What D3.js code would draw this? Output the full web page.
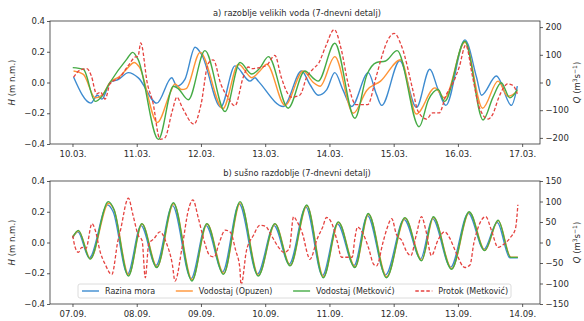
<!DOCTYPE html>
<html>
<head>
<meta charset="utf-8">
<script src="https://cdn.jsdelivr.net/npm/d3@7"></script>
<style>
  body { margin: 0; background: #fff; }
  svg { font-family: "DejaVu Sans", sans-serif; }
</style>
</head>
<body>
<div id="container"></div>
<script>

//---------------------
// DATA (hours from start of window, value)
//---------------------

const floodStart = new Date(2019, 2, 10);
const droughtStart = new Date(2019, 8, 7);

// a) flood period, water level H (m n.m.)
const floodSea = [[0.4,0.036],[6.9,-0.134],[9.3,-0.083],[11,-0.108],[14,0.0],[17.2,0.02],[20.9,0.064],[24.6,0.03],
  [31.5,-0.134],[37.1,0.031],[39,-0.024],[42,0.02],[45.8,0.229],[48.3,0.18],[55.4,-0.16],[60.7,0.108],[66.3,0.009],
  [68.2,0.031],[69.4,0.009],[78.8,-0.156],[85.6,0.075],[88.7,-0.013],[91.8,-0.083],[95,-0.046],[98,0.064],[101,-0.046],
  [104.3,-0.156],[110.5,0.064],[113.6,-0.079],[115.5,-0.149],[122.3,0.141],[128.5,-0.162],[133.5,0.086],[136.6,-0.046],
  [139.5,-0.149],[146.6,0.277],[151,0.031],[152.8,-0.083],[158.4,0.042],[164,-0.149],[166.2,-0.024]];

const floodOpuzen = [[0.4,0.075],[4.1,0.053],[8.5,-0.10],[11,-0.083],[14,0.0],[17.8,0.042],[20.9,0.10],[23,0.13],[25,0.1],
  [31.7,-0.26],[36.5,-0.068],[38.3,-0.01],[40.8,-0.046],[42.5,-0.04],[47.7,0.196],[56.2,-0.17],[62,0.119],[67,0.031],
  [70,0.075],[72.6,0.119],[79.4,-0.149],[86.2,0.075],[90,0.0],[92.5,-0.024],[98,0.168],[104.9,-0.2],[110,-0.05],
  [115.1,0.009],[122.6,0.148],[128.5,-0.205],[135.4,-0.035],[139,-0.1],[146.6,0.262],[153.2,-0.167],[159,0.009],
  [162.7,-0.09],[166.2,-0.057]];

const floodMetkovic = [[0.1,0.097],[4.1,0.086],[8.5,-0.123],[11,-0.09],[14,0.0],[20.3,0.152],[22.5,0.196],[24.5,0.15],
  [32.1,-0.37],[37.7,-0.024],[39.5,-0.04],[43.3,-0.112],[49.5,0.207],[57,-0.189],[62.6,0.13],[67,0.055],[70,0.094],
  [73.2,0.168],[80.6,-0.167],[86.8,0.075],[90.5,0.02],[91.8,0.009],[98,0.255],[105.5,-0.233],[110,0.05],[113.6,0.13],
  [117,0.14],[121.3,0.207],[129.5,-0.288],[133,-0.112],[136.6,-0.046],[139,-0.123],[146.6,0.268],[153.4,-0.244],
  [157,-0.1],[160.2,-0.002],[163.4,-0.10],[166.2,-0.046]];

// a) flood period, discharge Q (m3/s)
const floodQ = [[0.4,19],[2.7,44],[5.4,50],[7,25],[9,-41],[10.5,-35],[12.2,-60],[14,-5],[17.8,20],[20.9,62],[23.4,92],
  [24.5,95],[25.5,143],[28,-5],[30,-70],[32.7,-205],[34.5,-200],[37.3,-102],[39,-53],[41,-90],[45.4,-150],[48,-80],
  [50.7,68],[52.6,82],[55.4,-5],[58,-53],[60.7,-84],[63.8,19],[65.7,56],[67,50],[69,52],[72.5,62],[75.6,98],[78,19],
  [80.5,-41],[81.8,-53],[85,-45],[87.5,19],[90,50],[92,70],[94.5,128],[97.8,191],[100.5,116],[103,-5],[105.9,-80],
  [110.3,-80],[113.4,19],[115.9,104],[117.8,153],[120.2,177],[123,130],[127.2,-29],[129,-102],[132.3,-132],[134.5,-110],
  [137,-110],[139.5,-47],[142,-5],[144.5,56],[146.9,135],[149.5,19],[152,-90],[155.3,-132],[157,-115],[159.3,-53],
  [161.2,-17],[162.5,-5],[164.5,-10],[166.2,-41]];

// b) dry period, water level H (m n.m.)
const droughtSea = [[0,0.03],[2,0.07],[6.3,-0.1],[13.1,0.245],[15.2,0.2],[20.6,-0.205],[25.6,0.11],[31.2,-0.15],
  [37.4,0.24],[44.3,-0.235],[49.9,0.11],[56.1,-0.19],[62.3,0.25],[69.1,-0.205],[75.3,0.11],[81,-0.14],[87.2,0.23],
  [93.4,-0.215],[99,0.12],[105.2,-0.15],[110.2,0.175],[117,-0.21],[123.9,0.15],[130.1,-0.105],[134.5,0.155],
  [141.3,-0.16],[147.9,0.19],[153.7,-0.045],[158.7,0.13],[163.4,-0.1],[166.4,-0.1]];

const droughtOpuzen = [[0.1,0.035],[2.3,0.075],[6.7,-0.105],[13.5,0.255],[15.5,0.215],[21,-0.21],[26,0.12],[31.6,-0.158],
  [37.8,0.252],[44.7,-0.242],[50.3,0.12],[56.5,-0.2],[62.7,0.258],[69.5,-0.212],[75.7,0.12],[81.4,-0.148],[87.6,0.238],
  [93.8,-0.222],[99.4,0.13],[105.6,-0.158],[110.6,0.184],[117.4,-0.222],[124.3,0.158],[130.5,-0.115],[134.9,0.163],
  [141.7,-0.17],[148.3,0.196],[154.1,-0.05],[159.1,0.142],[163.8,-0.095],[166.4,-0.095]];

const droughtMetkovic = [[0.1,0.035],[2.2,0.079],[6.6,-0.108],[13.4,0.266],[15.5,0.215],[20.9,-0.218],[25.9,0.123],
  [31.5,-0.163],[37.7,0.259],[44.6,-0.25],[50.2,0.123],[56.4,-0.207],[62.6,0.266],[69.4,-0.218],[75.6,0.123],
  [81.3,-0.152],[87.5,0.244],[93.7,-0.229],[99.3,0.134],[105.5,-0.163],[110.5,0.189],[117.3,-0.229],[124.2,0.162],
  [130.4,-0.119],[134.8,0.167],[141.6,-0.174],[148.2,0.2],[154,-0.053],[159,0.145],[163.7,-0.097],[166.4,-0.097]];

// b) dry period, discharge Q (m3/s)
const droughtQ = [[0.1,17],[1,-12],[2.2,-24],[3.5,-12],[5,-15],[7.3,46],[8.5,30],[10.4,-24],[12.2,-53],[14.7,-78],
  [17,5],[17.8,26],[20.9,108],[22.5,70],[24.6,17],[26,5],[27.2,-86],[28.5,-3],[30.4,9],[32.7,26],[35,0],[37.3,-53],
  [38.3,-94],[41,-10],[43.3,79],[45,104],[47,60],[49.5,-3],[51.3,-32],[53,-35],[54.7,-3],[57.1,30],[59,25],[61,-20],
  [62.5,-61],[63,-104],[65,-20],[67.6,17],[70,42],[72,40],[74.5,15],[77,-12],[79,-24],[81,-15],[82.6,63],[84,50],
  [86,20],[88,-32],[88.7,-41],[91.5,10],[93.5,38],[94.9,61],[97,45],[99,0],[100.5,-36],[103,-36],[104.5,-36],
  [105.5,10],[106.5,38],[109,15],[110.7,-15],[112.5,-53],[113.6,-57],[116,0],[117.3,30],[119.3,58],[121,20],[123,5],
  [125,-24],[126.4,-32],[128.5,20],[130.4,63],[132,30],[134.1,-32],[136.5,5],[139,26],[141,10],[143,-20],[146.6,-61],
  [148.5,-55],[150,0],[154.4,63],[156.5,30],[159,-12],[161,-5],[163.7,13],[165.5,34],[166.4,92]];

const hTicks = [-0.4, -0.2, 0.0, 0.2, 0.4];
const qTicksFlood = [-200, -100, 0, 100, 200];
const qTicksDrought = [-150, -100, -50, 0, 50, 100, 150];

const seriesNames = ['Razina mora', 'Vodostaj (Opuzen)', 'Vodostaj (Metković)', 'Protok (Metković)'];
const seriesColors = ['#3d8bd0', '#ff9436', '#45ab45', '#e5423f'];

//---------------------
// LAYOUT
//---------------------

const W = 584, H = 321;
const plotLeft = 50, plotRight = 540;
const textColor = '#2b2b2b';

const svg = d3.select('#container')
              .append('svg')
              .attr('width', W)
              .attr('height', H);

addPanel({
  top: 21, bottom: 144,
  title: 'a) razoblje velikih voda (7-dnevni detalj)',
  start: floodStart,
  levels: [floodSea, floodOpuzen, floodMetkovic],
  flow: floodQ,
  qDomain: [-222, 222],
  qTicks: qTicksFlood,
  legend: false
});

addPanel({
  top: 181, bottom: 304,
  title: 'b) sušno razdoblje (7-dnevni detalj)',
  start: droughtStart,
  levels: [droughtSea, droughtOpuzen, droughtMetkovic],
  flow: droughtQ,
  qDomain: [-150, 150],
  qTicks: qTicksDrought,
  legend: true
});

//---------------------
// PANEL
//---------------------

function addPanel (p) {
  const x = d3.scaleTime()
              .domain([d3.timeMinute.offset(p.start, -504), d3.timeMinute.offset(p.start, 7 * 1440 + 400)])
              .range([plotLeft, plotRight]);
  const yH = d3.scaleLinear().domain([-0.4, 0.4]).range([p.bottom, p.top]);
  const yQ = d3.scaleLinear().domain(p.qDomain).range([p.bottom, p.top]);

  const toDate = h => d3.timeMinute.offset(p.start, h * 60);

  const g = svg.append('g');

  // lines
  const lineH = d3.line()
                  .x(d => x(toDate(d[0])))
                  .y(d => yH(d[1]))
                  .curve(d3.curveMonotoneX);
  const lineQ = d3.line()
                  .x(d => x(toDate(d[0])))
                  .y(d => yQ(d[1]))
                  .curve(d3.curveMonotoneX);

  p.levels.forEach((s, i) => {
    g.append('path')
     .datum(s)
     .attr('d', lineH)
     .attr('fill', 'none')
     .attr('stroke', seriesColors[i])
     .attr('stroke-width', 1.4)
     .attr('stroke-linejoin', 'round');
  });

  g.append('path')
   .datum(p.flow)
   .attr('d', lineQ)
   .attr('fill', 'none')
   .attr('stroke', seriesColors[3])
   .attr('stroke-width', 1.3)
   .attr('stroke-dasharray', '3.5,2');

  // axes
  const axX = d3.axisBottom(x)
                .tickValues(d3.range(8).map(i => d3.timeDay.offset(p.start, i)))
                .tickFormat(d3.timeFormat('%d.%m.'))
                .tickSizeOuter(0).tickSize(3).tickPadding(3.5);
  const axL = d3.axisLeft(yH)
                .tickValues(hTicks)
                .tickFormat(d3.format('.1f'))
                .tickSizeOuter(0).tickSize(3).tickPadding(2);
  const axR = d3.axisRight(yQ)
                .tickValues(p.qTicks)
                .tickFormat(d3.format('d'))
                .tickSizeOuter(0).tickSize(3).tickPadding(2.5);

  [[axX, `translate(0,${p.bottom})`], [axL, `translate(${plotLeft},0)`], [axR, `translate(${plotRight},0)`]]
    .forEach(([ax, tr]) => {
      const a = g.append('g')
                 .attr('transform', tr)
                 .call(ax);
      a.select('.domain').remove();
      a.selectAll('line').attr('stroke', '#333').attr('stroke-width', 0.8);
      a.selectAll('text')
       .attr('fill', textColor)
       .style('font-size', '8.5px')
       .style('font-family', '"DejaVu Sans", sans-serif');
    });

  // frame
  g.append('rect')
   .attr('x', plotLeft).attr('y', p.top)
   .attr('width', plotRight - plotLeft).attr('height', p.bottom - p.top)
   .attr('fill', 'none')
   .attr('stroke', '#333')
   .attr('stroke-width', 0.8);

  // title
  g.append('text')
   .attr('x', (plotLeft + plotRight) / 2 + 2)
   .attr('y', p.top - 5)
   .attr('text-anchor', 'middle')
   .attr('fill', textColor)
   .style('font-size', '8.3px')
   .text(p.title);

  // y labels
  const mid = (p.top + p.bottom) / 2;
  const lh = g.append('text')
              .attr('transform', `translate(15,${mid}) rotate(-90)`)
              .attr('text-anchor', 'middle')
              .attr('fill', textColor)
              .style('font-size', '8.5px');
  lh.append('tspan').style('font-style', 'italic').text('H');
  lh.append('tspan').text(' (m n.m.)');

  const lq = g.append('text')
              .attr('transform', `translate(580,${mid}) rotate(-90)`)
              .attr('text-anchor', 'middle')
              .attr('fill', textColor)
              .style('font-size', '8.5px');
  lq.append('tspan').style('font-style', 'italic').text('Q');
  lq.append('tspan').text(' (m');
  lq.append('tspan').attr('dy', -3).style('font-size', '6px').text('3');
  lq.append('tspan').attr('dy', 3).text('s');
  lq.append('tspan').attr('dy', -3).style('font-size', '6px').text('−1');
  lq.append('tspan').attr('dy', 3).text(')');

  if (p.legend) addLegend(g, p.bottom - 13);
}

//---------------------
// LEGEND
//---------------------

function addLegend (g, cy) {
  g.append('rect')
   .attr('x', 78).attr('y', cy - 7)
   .attr('width', 433).attr('height', 14)
   .attr('rx', 2)
   .attr('fill', '#fff').attr('fill-opacity', 0.85)
   .attr('stroke', '#d3d3d3').attr('stroke-width', 0.8);

  const items = g.append('g');
  const texts = seriesNames.map(n => items.append('text')
                                          .attr('y', cy + 3)
                                          .attr('fill', textColor)
                                          .style('font-size', '8px')
                                          .text(n));
  const widths = texts.map(t => t.node().getComputedTextLength());
  const handle = 17, pad = 6, x0 = 82, x1 = 508;
  const gap = (x1 - x0 - d3.sum(widths) - 4 * (handle + pad)) / 3;

  let xc = x0;
  seriesNames.forEach((n, i) => {
    items.append('line')
         .attr('x1', xc).attr('x2', xc + handle)
         .attr('y1', cy).attr('y2', cy)
         .attr('stroke', seriesColors[i])
         .attr('stroke-width', 1.4)
         .attr('stroke-dasharray', i === 3 ? '3.5,2' : null);
    texts[i].attr('x', xc + handle + pad);
    xc += handle + pad + widths[i] + gap;
  });
}

</script>
</body>
</html>
